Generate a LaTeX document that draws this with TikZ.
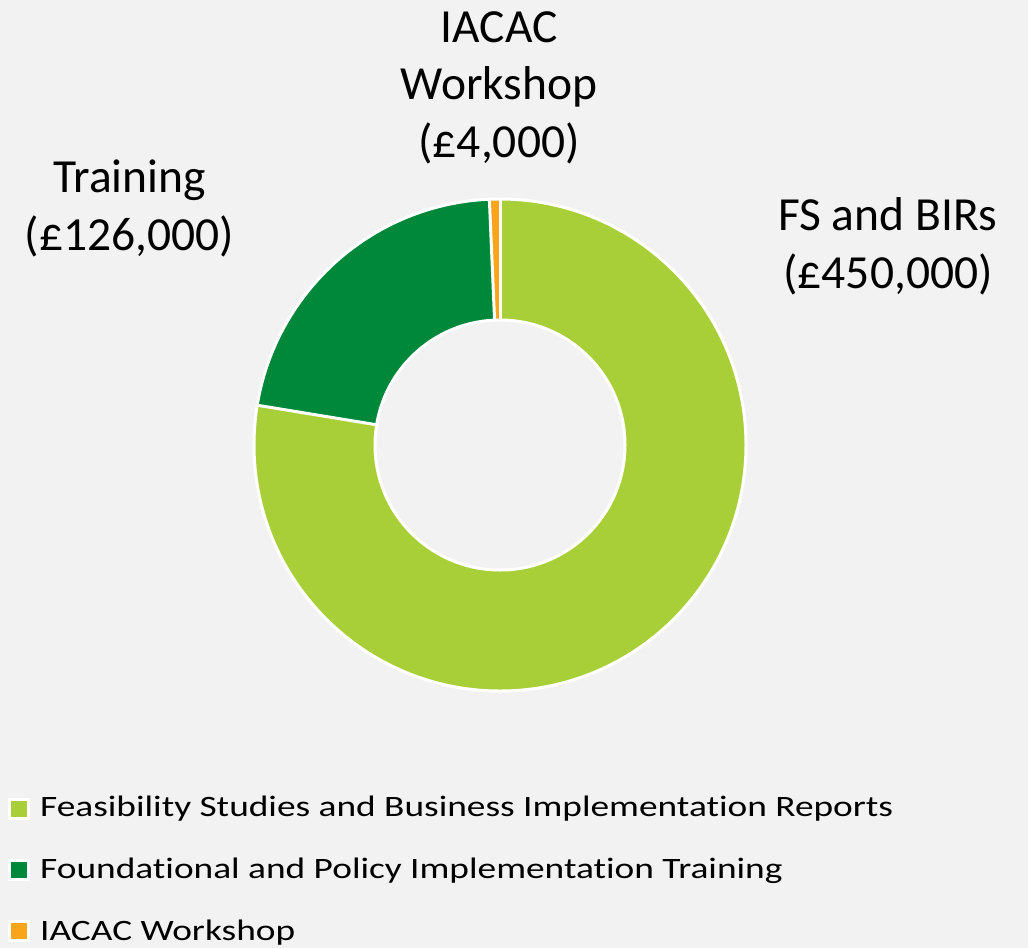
\documentclass[tikz,border=0pt]{standalone}
\usepackage{fontspec}
\setmainfont[Ligatures=NoCommon]{Carlito}
\newfontfamily\legfont[FakeStretch=1.262,Ligatures={NoCommon,NoRare},Contextuals=NoAlternate]{Carlito}
\definecolor{bg}{HTML}{F2F2F2}
\definecolor{lgreen}{HTML}{A9CF38}
\definecolor{dgreen}{HTML}{00883A}
\definecolor{orng}{HTML}{F8A51B}
\begin{document}
\begin{tikzpicture}[x=1pt,y=-1pt,
  lbl/.style={inner sep=0pt, align=center, anchor=base, text=black,
    font=\fontsize{47.5}{57.5}\selectfont},
  leg/.style={inner sep=0pt, anchor=base west, text=black,
    font=\legfont\fontsize{29.6}{36}\selectfont},
  legmark/.style={draw=white, line width=3pt, minimum size=19.5pt, inner sep=0pt},
  slice/.style={draw=white, line width=3pt, line join=round}]
\fill[bg] (0,0) rectangle (1028,948);
\useasboundingbox (0,0) rectangle (1028,948);
\begin{scope}[shift={(500,445)}, yscale=-1]
  \def\R{246}\def\r{125}
  \fill[lgreen] (90:\R) arc[start angle=90, end angle=-189.31, radius=\R]
     -- (-189.31:\r) arc[start angle=-189.31, end angle=90, radius=\r] -- cycle;
  \fill[dgreen] (170.69:\R) arc[start angle=170.69, end angle=92.48, radius=\R]
     -- (92.48:\r) arc[start angle=92.48, end angle=170.69, radius=\r] -- cycle;
  \fill[orng] (92.48:\R) arc[start angle=92.48, end angle=90, radius=\R]
     -- (90:\r) arc[start angle=90, end angle=92.48, radius=\r] -- cycle;
  \draw[slice] (0,0) circle[radius=\R];
  \draw[slice] (0,0) circle[radius=\r];
  \draw[slice] (90:\r) -- (90:\R);
  \draw[slice] (170.69:\r) -- (170.69:\R);
  \draw[slice] (92.48:\r) -- (92.48:\R);
\end{scope}
\node[lbl] (ltrain) at (129.5,250) {Training\\(£126,000)};
\node[lbl] (liacac) at (499,157) {IACAC\\Workshop\\(£4,000)};
\node[lbl] (lfs) at (888,288) {FS and BIRs\\(£450,000)};
\node[legmark, fill=lgreen] (m1) at (19,809) {};
\node[legmark, fill=dgreen] (m2) at (19,870) {};
\node[legmark, fill=orng] (m3) at (19,931) {};
\node[leg] (t1) at (40,816.7) {Feasibility Studies and Business Implementation Reports};
\node[leg] (t2) at (40,878) {Foundational and Policy Implementation Training};
\node[leg] (t3) at (40,940) {IACAC Workshop};
\end{tikzpicture}
\end{document}
